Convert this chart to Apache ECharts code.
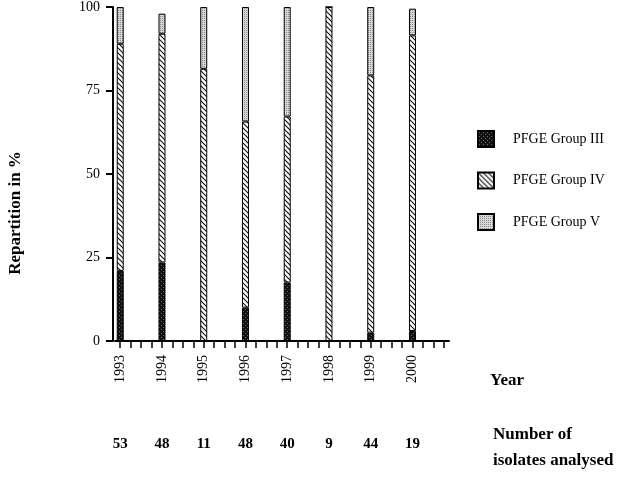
<!DOCTYPE html>
<html>
<head>
<meta charset="utf-8">
<script src="https://cdn.jsdelivr.net/npm/echarts@6/dist/echarts.min.js"></script>
<style>
html, body { margin: 0; padding: 0; background: #fff; }
#chart { width: 643px; height: 477px; }
</style>
</head>
<body>
<div id="chart"></div>
<script>
var years = ["1993", "1994", "1995", "1996", "1997", "1998", "1999", "2000"];
var isolates = [53, 48, 11, 48, 40, 9, 44, 19];
var groupIII = [21, 23.5, 0, 10, 17.5, 0, 2.5, 3];
var groupIV = [68, 68.5, 81.5, 55.7, 49.7, 100, 77, 88.5];
var groupV = [11, 6, 18.5, 34.3, 32.8, 0, 20.5, 8];
var yTicks = [0, 25, 50, 75, 100];
var slotsPerYear = 4;

var FONT = "Liberation Serif";

// build the little fill patterns
function makePattern(size, draw) {
    var c = document.createElement("canvas");
    c.width = size; c.height = size;
    var ctx = c.getContext("2d");
    draw(ctx, size);
    return { image: c, repeat: "repeat" };
}
var darkDots = makePattern(4, function (ctx, s) {
    ctx.fillStyle = "#111";
    ctx.fillRect(0, 0, s, s);
    ctx.fillStyle = "#6a6a6a";
    ctx.fillRect(1, 1, 1, 1);
    ctx.fillRect(3, 3, 1, 1);
});
var hatch = makePattern(5, function (ctx, s) {
    ctx.fillStyle = "#fff";
    ctx.fillRect(0, 0, s, s);
    ctx.strokeStyle = "#111";
    ctx.lineWidth = 1.1;
    ctx.beginPath();
    ctx.moveTo(-1, -1); ctx.lineTo(s + 1, s + 1);
    ctx.moveTo(-1, s - 1); ctx.lineTo(1, s + 1);
    ctx.moveTo(s - 1, -1); ctx.lineTo(s + 1, 1);
    ctx.stroke();
});
var lightDots = makePattern(2, function (ctx, s) {
    ctx.fillStyle = "#d6d6d6";
    ctx.fillRect(0, 0, s, s);
    ctx.fillStyle = "#8c8c8c";
    ctx.fillRect(0, 0, 1, 1);
});

// 4 slots per year so the axis gets its minor ticks
var categories = [];
for (var i = 0; i < years.length * slotsPerYear; i++) {
    categories.push(i % slotsPerYear === 0 ? years[i / slotsPerYear] : "");
}
function spread(arr) {
    var out = [];
    for (var i = 0; i < categories.length; i++) {
        out.push(i % slotsPerYear === 0 ? arr[i / slotsPerYear] : "-");
    }
    return out;
}

function barSeries(name, data, fill) {
    return {
        name: name,
        type: "bar",
        stack: "all",
        barWidth: 7,
        data: spread(data),
        itemStyle: { color: fill, borderColor: "#000", borderWidth: 1 },
        emphasis: { disabled: true }
    };
}

var chart = echarts.init(document.getElementById("chart"));
chart.setOption({
    animation: false,
    backgroundColor: "#fff",
    textStyle: { fontFamily: FONT, color: "#000" },
    grid: { left: 115, right: 194, top: 7, bottom: 136 },
    legend: {
        orient: "vertical",
        left: 472,
        top: 125,
        itemWidth: 16,
        itemHeight: 16,
        itemGap: 23.5,
        icon: "rect",
        textStyle: { fontFamily: FONT, fontSize: 14, color: "#000", padding: [0, 0, 0, 14] },
        data: ["PFGE Group III", "PFGE Group IV", "PFGE Group V"]
    },
    xAxis: [{
        type: "category",
        data: categories,
        boundaryGap: true,
        axisLine: { lineStyle: { color: "#000", width: 2 } },
        axisTick: { show: true, alignWithLabel: true, interval: 0, length: 7, lineStyle: { color: "#000", width: 1.5 } },
        axisLabel: { interval: 0, rotate: 90, margin: 14, fontFamily: FONT, fontSize: 14, color: "#000" }
    }, {
        type: "category",
        data: categories,
        position: "bottom",
        offset: 96,
        axisLine: { show: false },
        axisTick: { show: false },
        axisLabel: {
            interval: 0, margin: 0, fontFamily: FONT, fontSize: 15, fontWeight: "bold", color: "#000",
            formatter: function (v, idx) {
                return idx % slotsPerYear === 0 ? String(isolates[idx / slotsPerYear]) : "";
            }
        }
    }],
    yAxis: {
        type: "value",
        min: yTicks[0],
        max: yTicks[yTicks.length - 1],
        interval: 25,
        offset: 2,
        splitLine: { show: false },
        axisLine: { show: true, lineStyle: { color: "#000", width: 2 } },
        axisTick: { show: true, length: 7, lineStyle: { color: "#000", width: 2 } },
        axisLabel: { margin: 13, fontFamily: FONT, fontSize: 14, color: "#000" }
    },
    series: [
        barSeries("PFGE Group III", groupIII, darkDots),
        barSeries("PFGE Group IV", groupIV, hatch),
        barSeries("PFGE Group V", groupV, lightDots)
    ],
    graphic: [{
        type: "text",
        x: 16, y: 213,
        rotation: Math.PI / 2,
        style: { text: "Repartition in %", font: "bold 17px " + FONT, fill: "#000", align: "center", verticalAlign: "middle" }
    }, {
        type: "text",
        x: 490, y: 381,
        style: { text: "Year", font: "bold 17px " + FONT, fill: "#000", verticalAlign: "middle" }
    }, {
        type: "text",
        x: 493, y: 435,
        style: { text: "Number of", font: "bold 17px " + FONT, fill: "#000", verticalAlign: "middle" }
    }, {
        type: "text",
        x: 493, y: 461,
        style: { text: "isolates analysed", font: "bold 17px " + FONT, fill: "#000", verticalAlign: "middle" }
    }]
});
</script>
</body>
</html>
